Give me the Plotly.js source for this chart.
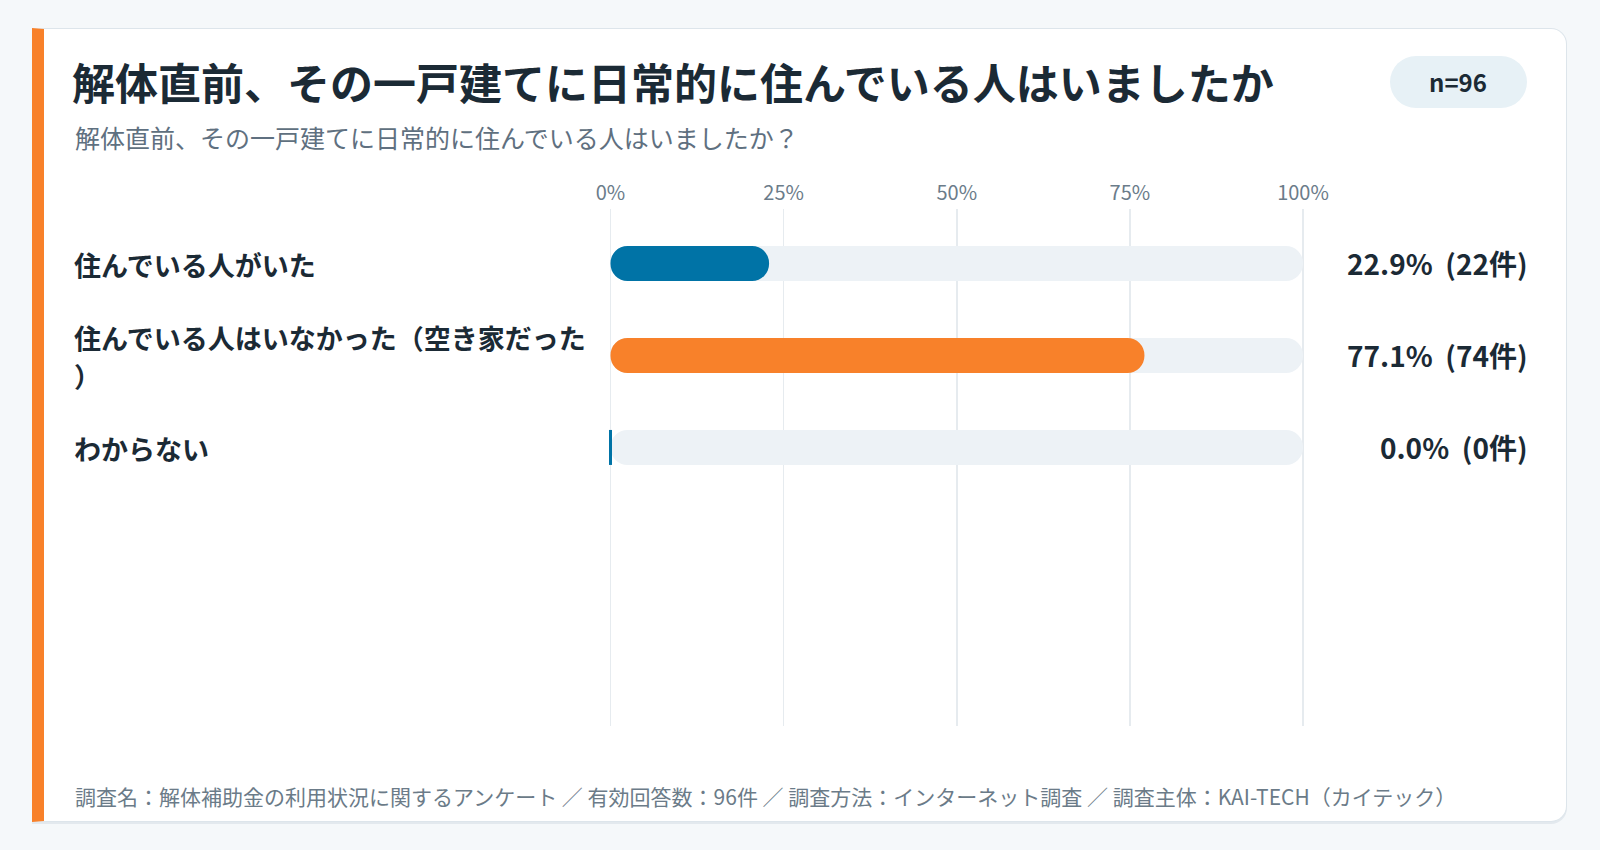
<!DOCTYPE html>
<html>
<head>
<meta charset="utf-8">
<script src="https://cdn.plot.ly/plotly-3.0.1.min.js"></script>
<style>
    body { margin: 0; background: #f5f8fa; font-family: "Noto Sans CJK JP", sans-serif; }
    #card {
        position: absolute; left: 32px; top: 28px; width: 1522px; height: 792px;
        background: #fff; border: 1.5px solid #dde5eb; border-left: 12px solid #f8812a;
        border-radius: 0 16px 16px 0; box-shadow: 0 2px 0 #e3e9ee;
    }
    #pill {
        position: absolute; left: 1390px; top: 56px; width: 137px; height: 52px;
        border-radius: 26px; background: #e7f1f6;
    }
    #plot { position: absolute; left: 0; top: 0; width: 1600px; height: 850px; }
</style>
</head>
<body>
<div id="card"></div>
<div id="pill"></div>
<div id="plot"></div>
<script>
// Data
const categories = ['住んでいる人がいた', '住んでいる人はいなかった（空き家だった）', 'わからない'];
const percents = [22.9, 77.1, 0.0];
const counts = [22, 74, 0];
const tickValues = [0, 25, 50, 75, 100];

const titleText = '解体直前、その一戸建てに日常的に住んでいる人はいましたか';
const subtitleText = '解体直前、その一戸建てに日常的に住んでいる人はいましたか？';
const footerText = '調査名：解体補助金の利用状況に関するアンケート ／ 有効回答数：96件 ／ 調査方法：インターネット調査 ／ 調査主体：KAI-TECH（カイテック）';

// Styles
const FONT = '"Noto Sans CJK JP", "Noto Sans", sans-serif';
const BLUE = '#0073a6';
const ORANGE = '#f8812a';
const TRACK = '#edf2f6';
const DARK = '#1b2a35';
const GRAY = '#5f7080';
const W = 1600, H = 850;
const px = x => x / W;
const py = y => 1 - y / H;

const maxPct = Math.max(...percents);
const barColors = percents.map(p => p === maxPct ? ORANGE : BLUE);
const total = counts.reduce((a, b) => a + b, 0);

function roundBar(values, color, barWidth) {
    return {
        type: 'bar', orientation: 'h', y: categories, x: values, base: values.map(() => 0),
        width: barWidth, hoverinfo: 'skip', showlegend: false,
        marker: { color: color, cornerradius: 17, line: { width: 0 } }
    };
}

const fullValues = categories.map(() => 100);
const bw = 0.38;
const traces = [
    roundBar(fullValues, TRACK, bw),
    roundBar(percents, barColors, bw)
];

// thin marker for zero values
const zeroIdx = percents.map((p, i) => p === 0 ? i : -1).filter(i => i >= 0);
traces.push({
    type: 'scatter', mode: 'markers', x: zeroIdx.map(i => percents[i]), y: zeroIdx.map(i => categories[i]),
    marker: { symbol: 'line-ns', size: 25, color: zeroIdx.map(i => barColors[i]), line: { width: 3, color: zeroIdx.map(i => barColors[i]) } },
    hoverinfo: 'skip', showlegend: false, cliponaxis: false
});

// wrap long labels
function wrapLabel(s, n) {
    const lines = [];
    for (let i = 0; i < s.length; i += n) lines.push(s.slice(i, i + n));
    return lines;
}

const annotations = [];
categories.forEach((c, i) => {
    const lines = wrapLabel(c, 19);
    lines.forEach((line, j) => {
        annotations.push({
            xref: 'paper', yref: 'y', x: px(72), y: c, xanchor: 'left', yanchor: 'middle',
            yshift: -((j - (lines.length - 1) / 2) * 38) - 1,
            text: line, showarrow: false,
            font: { family: FONT, size: 27, weight: 700, color: DARK }
        });
    });
    annotations.push({
        xref: 'paper', yref: 'y', x: px(1530), y: c, xanchor: 'right', yanchor: 'middle',
        text: `${percents[i].toFixed(1)}%  (${counts[i]}件)`, showarrow: false,
        font: { family: FONT, size: 28, weight: 700, color: DARK }
    });
});

annotations.push({
    xref: 'paper', yref: 'paper', x: px(73), y: py(137), xanchor: 'left', yanchor: 'middle',
    text: subtitleText, showarrow: false, font: { family: FONT, size: 25, color: GRAY }
});
annotations.push({
    xref: 'paper', yref: 'paper', x: px(1458), y: py(82), xanchor: 'center', yanchor: 'middle',
    text: `n=${total}`, showarrow: false, font: { family: FONT, size: 24, weight: 700, color: DARK }
});
annotations.push({
    xref: 'paper', yref: 'paper', x: px(73), y: py(796), xanchor: 'left', yanchor: 'middle',
    text: footerText, showarrow: false, font: { family: FONT, size: 21, color: '#6b7b88' }
});

const layout = {
    width: W, height: H,
    margin: { t: 0, l: 0, r: 0, b: 0 },
    paper_bgcolor: 'rgba(0,0,0,0)',
    plot_bgcolor: 'rgba(0,0,0,0)',
    barmode: 'overlay',
    showlegend: false,
    hovermode: false,
    title: {
        text: titleText, x: px(72), xanchor: 'left', xref: 'paper',
        y: py(85), yanchor: 'middle', yref: 'paper',
        font: { family: FONT, size: 43, weight: 700, color: DARK }
    },
    xaxis: {
        domain: [px(609.1), px(1304.4)],
        range: [-0.2, 100.2],
        side: 'top',
        tickmode: 'array',
        tickvals: tickValues,
        ticktext: tickValues.map(v => v + '%'),
        tickfont: { family: FONT, size: 20, color: '#6b7c8a' },
        ticklabelstandoff: 4,
        showgrid: true, gridcolor: '#e6ebef', gridwidth: 1.5,
        zeroline: false, showline: false, ticks: ''
    },
    yaxis: {
        domain: [py(726), py(209)],
        type: 'category',
        range: [5.028, -0.592],
        showticklabels: false, showgrid: false, zeroline: false, showline: false
    },
    annotations: annotations
};

Plotly.newPlot('plot', traces, layout, { displayModeBar: false, staticPlot: true });
</script>
</body>
</html>
